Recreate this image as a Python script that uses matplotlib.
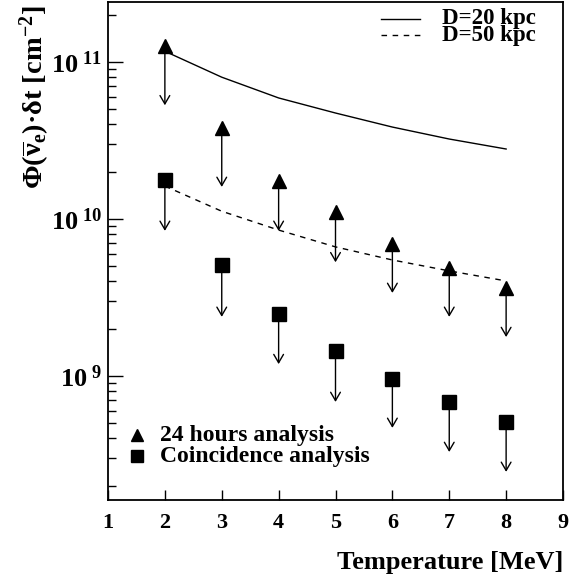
import matplotlib
matplotlib.use("Agg")
import matplotlib.pyplot as plt
from matplotlib.lines import Line2D
from matplotlib.ticker import FixedLocator, LogLocator, FuncFormatter, NullFormatter
import numpy as np

plt.rcParams['font.family'] = ['Liberation Serif', 'DejaVu Serif']
plt.rcParams['font.weight'] = 'bold'
plt.rcParams['mathtext.fontset'] = 'custom'
plt.rcParams['mathtext.rm'] = 'Liberation Serif:bold'
plt.rcParams['mathtext.it'] = 'Liberation Serif:bold'
plt.rcParams['mathtext.bf'] = 'Liberation Serif:bold'
plt.rcParams['mathtext.sf'] = 'Liberation Serif:bold'

# ---- data ----
temperature = [2, 3, 4, 5, 6, 7, 8]
flux_24h = [1.26e11, 3.80e10, 1.75e10, 1.11e10, 6.93e9, 4.88e9, 3.64e9]
flux_24h_arrow = [5.3e10, 1.60e10, 8.4e9, 5.3e9, 3.38e9, 2.38e9, 1.77e9]
flux_coinc = [1.77e10, 5.09e9, 2.48e9, 1.44e9, 9.57e8, 6.83e8, 5.09e8]
flux_coinc_arrow = [8.4e9, 2.38e9, 1.19e9, 6.83e8, 4.67e8, 3.28e8, 2.45e8]
curve_20kpc = [1.17e11, 8.0e10, 5.9e10, 4.73e10, 3.85e10, 3.23e10, 2.79e10]
curve_50kpc = [1.62e10, 1.12e10, 8.5e9, 6.64e9, 5.48e9, 4.67e9, 4.03e9]
x_ticks = [1, 2, 3, 4, 5, 6, 7, 8, 9]

fig = plt.figure(figsize=(5.74, 5.80), dpi=100)
ax = fig.add_axes([108/574, 80/580, (563-108)/574, (578-80)/580])

ax.set_yscale('log')
ax.set_xlim(1, 9)
ax.set_ylim(10**8.21, 10**11.382)

ax.plot(temperature, curve_20kpc, color='black', lw=1.0, ls='-')
ax.plot(temperature, curve_50kpc, color='black', lw=1.0, ls=(0, (4, 4)))

for t, v, a in zip(temperature, flux_24h, flux_24h_arrow):
    ax.annotate('', xy=(t, a), xytext=(t, v),
                arrowprops=dict(arrowstyle='->,head_length=0.6,head_width=0.35',
                                lw=1.0, color='black', shrinkA=0, shrinkB=0))
for t, v, a in zip(temperature, flux_coinc, flux_coinc_arrow):
    ax.annotate('', xy=(t, a), xytext=(t, v),
                arrowprops=dict(arrowstyle='->,head_length=0.6,head_width=0.35',
                                lw=1.0, color='black', shrinkA=0, shrinkB=0))

ax.plot(temperature, flux_24h, ls='none', marker='^', ms=10, color='black', zorder=5)
ax.plot(temperature, flux_coinc, ls='none', marker='s', ms=10, color='black', zorder=5)

# ticks
ax.xaxis.set_major_locator(FixedLocator(x_ticks))
ax.xaxis.set_major_formatter(FuncFormatter(lambda v, p: '%d' % v))
ax.yaxis.set_major_locator(LogLocator(base=10, numticks=10))
ax.yaxis.set_minor_locator(LogLocator(base=10, subs=np.arange(2, 10), numticks=20))
ax.yaxis.set_major_formatter(FuncFormatter(lambda v, p: r'$10^{\ %d}$' % round(np.log10(v))))
ax.yaxis.set_minor_formatter(NullFormatter())
ax.tick_params(axis='x', which='major', direction='in', length=7, width=1, labelsize=16, pad=9)
ax.tick_params(axis='y', which='major', direction='in', length=11, width=1, labelsize=19, pad=4)
ax.tick_params(axis='y', which='minor', direction='in', length=6, width=1)
for s in ax.spines.values():
    s.set_linewidth(1.3)

ax.set_xlabel('Temperature [MeV]', fontsize=19, fontweight='bold', ha='right')
ax.xaxis.set_label_coords(1.0, -0.102)
ax.set_ylabel(r'$\Phi(\overline{\nu}_{e})$·$\delta$t [cm$^{-2}$]', fontsize=20.5,
              fontweight='bold', ha='right')
ax.yaxis.set_label_coords(-0.122, 0.993)

# legends (drawn in axes coordinates)
tr = ax.transAxes
ax.add_line(Line2D([0.60, 0.685], [0.966, 0.966], transform=tr, color='black', lw=1.0))
ax.add_line(Line2D([0.60, 0.685], [0.933, 0.933], transform=tr, color='black', lw=1.0, ls=(0, (4, 4))))
ax.text(0.735, 0.966, 'D=20 kpc', transform=tr, fontsize=16.5, fontweight='bold', va='center')
ax.text(0.735, 0.933, 'D=50 kpc', transform=tr, fontsize=16.5, fontweight='bold', va='center')

ax.plot([0.063], [0.13], transform=tr, marker='^', ms=9, color='black', ls='none', clip_on=False)
ax.plot([0.063], [0.088], transform=tr, marker='s', ms=9, color='black', ls='none', clip_on=False)
ax.text(0.115, 0.13, '24 hours analysis', transform=tr, fontsize=17, fontweight='bold', va='center')
ax.text(0.115, 0.088, 'Coincidence analysis', transform=tr, fontsize=17, fontweight='bold', va='center')

fig.savefig('out.png', dpi=100)
